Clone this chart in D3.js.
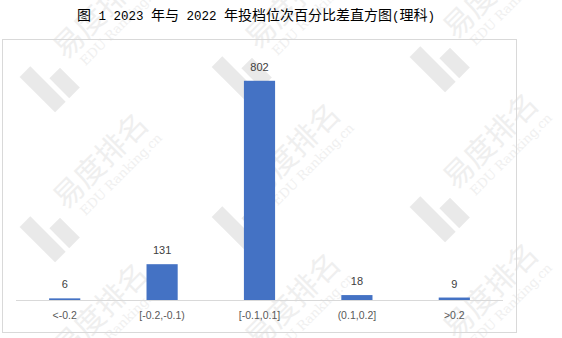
<!DOCTYPE html>
<html>
<head>
<meta charset="utf-8">
<script src="https://cdn.jsdelivr.net/npm/d3@7"></script>
<style>
  body { margin: 0; background: #fff; }
  svg { display: block; }
</style>
</head>
<body>
<div id="chart"></div>
<script>
// data
const categories = ["<-0.2", "[-0.2,-0.1)", "[-0.1,0.1]", "(0.1,0.2]", ">0.2"];
const counts = [6, 131, 802, 18, 9];
const yMax = 900;
const titleText = "图 1 2023 年与 2022 年投档位次百分比差直方图(理科)";

const config = { width: 562, height: 338, div: "#chart" };

const svg = d3.select(config.div)
    .append("svg")
    .attr("width", config.width)
    .attr("height", config.height);

// watermark grid (faint, drawn behind everything)
const wmCols = [[60, 5], [252, -5], [450, -15]];
const wmRows = [50, 200, 350];
const wm = svg.append("g").attr("class", "watermark");
wmRows.forEach(ry => {
    wmCols.forEach(([cx, dy]) => {
        let g = wm.append("g")
            .attr("transform", `translate(${cx},${ry + dy}) rotate(-45)`);
        // logo: two bars
        g.append("rect").attr("x", -44).attr("y", -13).attr("width", 15).attr("height", 50)
            .attr("fill", "#e9e9e9");
        g.append("rect").attr("x", -24).attr("y", 9).attr("width", 15).attr("height", 28)
            .attr("fill", "#e9e9e9");
        g.append("text")
            .attr("x", 0).attr("y", 8)
            .style("font-family", "'Noto Sans CJK SC', sans-serif")
            .style("font-size", "30px")
            .attr("fill", "#efefef")
            .text("易度排名");
        g.append("text")
            .attr("x", 10).attr("y", 26)
            .style("font-family", "'DejaVu Serif', serif")
            .style("font-size", "13px")
            .attr("fill", "#f0f0f0")
            .text("EDU Ranking.cn");
    });
});

// chart frame
svg.append("rect")
    .attr("x", 2.5).attr("y", 39.5)
    .attr("width", 514).attr("height", 293)
    .attr("fill", "none")
    .attr("stroke", "#d9d9d9");

// title: CJK runs and half-width runs set separately
const title = svg.append("text")
    .attr("x", 77)
    .attr("y", 20)
    .attr("fill", "#000")
    .attr("xml:space", "preserve")
    .style("white-space", "pre");
titleText.match(/[\u4e00-\u9fff]+|[^\u4e00-\u9fff]+/g).forEach(run => {
    let cjk = /[\u4e00-\u9fff]/.test(run);
    title.append("tspan")
        .style("font-family", cjk ? "'Noto Sans CJK SC', sans-serif" : "'Liberation Mono', monospace")
        .style("font-size", cjk ? "14px" : "12.5px")
        .text(run);
});

// scales
const x = d3.scaleBand()
    .domain(categories)
    .range([16, 503])
    .paddingInner(0.68)
    .paddingOuter(0.34);

const y = d3.scaleLinear()
    .domain([0, yMax])
    .range([300, 54]);

// bars
svg.append("g")
    .selectAll("rect")
    .data(counts)
    .enter().append("rect")
        .attr("x", (d, i) => x(categories[i]))
        .attr("y", d => y(d))
        .attr("width", x.bandwidth())
        .attr("height", d => y(0) - y(d))
        .attr("fill", "#4472C4");

// baseline
svg.append("line")
    .attr("x1", 16).attr("x2", 503)
    .attr("y1", y(0) + 0.5).attr("y2", y(0) + 0.5)
    .attr("stroke", "#d9d9d9");

// value labels
svg.append("g")
    .selectAll("text")
    .data(counts)
    .enter().append("text")
        .attr("x", (d, i) => x(categories[i]) + x.bandwidth() / 2)
        .attr("y", d => y(d) - 10)
        .style("text-anchor", "middle")
        .style("font-family", "'Liberation Sans', Arial, sans-serif")
        .style("font-size", "11px")
        .attr("fill", "#404040")
        .text(d => d);

// category labels
svg.append("g")
    .selectAll("text")
    .data(categories)
    .enter().append("text")
        .attr("x", d => x(d) + x.bandwidth() / 2)
        .attr("y", 319)
        .style("text-anchor", "middle")
        .style("font-family", "'Liberation Sans', Arial, sans-serif")
        .style("font-size", "10.5px")
        .attr("fill", "#595959")
        .text(d => d);
</script>
</body>
</html>
